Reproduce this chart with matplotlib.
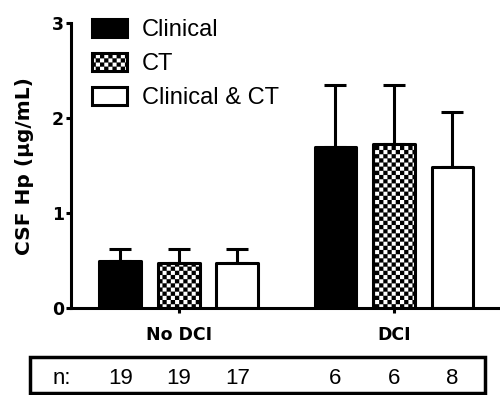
import warnings
warnings.filterwarnings("ignore")
import numpy as np
import matplotlib
matplotlib.use("Agg")
import matplotlib.pyplot as plt
import matplotlib.hatch as mhatch
from matplotlib.path import Path
from matplotlib.patches import Rectangle, Patch
from matplotlib.transforms import blended_transform_factory

# ---- data ----
groups = ["No DCI", "DCI"]
series = ["Clinical", "CT", "Clinical & CT"]
means = {
    "Clinical": [0.50, 1.70],
    "CT": [0.48, 1.73],
    "Clinical & CT": [0.48, 1.49],
}
upper_err = {
    "Clinical": [0.12, 0.65],
    "CT": [0.14, 0.62],
    "Clinical & CT": [0.14, 0.57],
}
n_counts = {
    "Clinical": [19, 6],
    "CT": [19, 6],
    "Clinical & CT": [17, 8],
}
yticks = [0, 1, 2, 3]
ylabel = "CSF Hp (µg/mL)"


# ---- custom checkerboard hatch ----
class Checker(mhatch.HatchPatternBase):
    def __init__(self, hatch, density):
        n = hatch.count('c') * density
        self.n = n
        if n == 0:
            self.num_vertices = 0
            self.squares = []
        else:
            self.squares = [(i, j) for i in range(n) for j in range(n) if (i + j) % 2 == 0]
            self.num_vertices = len(self.squares) * 5

    def set_vertices_and_codes(self, vertices, codes):
        s = 1.0 / self.n
        k = 0
        for i, j in self.squares:
            x0, y0 = i * s, j * s
            vertices[k:k + 5] = [(x0, y0), (x0 + s, y0), (x0 + s, y0 + s), (x0, y0 + s), (x0, y0)]
            codes[k:k + 5] = [Path.MOVETO, Path.LINETO, Path.LINETO, Path.LINETO, Path.CLOSEPOLY]
            k += 5


mhatch._hatch_types.append(Checker)

plt.rcParams['font.family'] = ['Liberation Sans', 'DejaVu Sans']
plt.rcParams['hatch.linewidth'] = 0.1
BOLD = ['DejaVu Sans']

styles = {
    "Clinical": dict(facecolor="black", hatch=None),
    "CT": dict(facecolor="white", hatch="cccc"),
    "Clinical & CT": dict(facecolor="white", hatch=None),
}

fig = plt.figure(figsize=(5, 3.95), dpi=100)
ax = fig.add_axes([0.142, 0.220, 0.858, 0.7215])

x = np.arange(len(groups))
spacing = 0.272
width = 0.195
LW = 2.2

for i, s in enumerate(series):
    xs = x + (i - 1) * spacing
    ax.errorbar(xs, means[s], yerr=[np.zeros(len(groups)), upper_err[s]],
                fmt='none', ecolor='black', elinewidth=LW, capsize=8, capthick=LW, zorder=1)
    bars = ax.bar(xs, means[s], width=width, edgecolor='black', linewidth=LW,
                  zorder=2, **styles[s])
    for b in bars:
        b.set_joinstyle('round')

ax.set_xlim(-0.502, 1.493)
ax.set_ylim(0, 3)
ax.set_yticks(yticks)
ax.set_xticks(x)
ax.set_xticklabels(groups, fontweight='bold', fontsize=12.5, family=BOLD)
ax.set_yticklabels([str(t) for t in yticks], fontweight='bold', fontsize=12.5, family=BOLD)
ax.tick_params(axis='both', direction='out', length=3.6, width=LW)
ax.tick_params(axis='x', pad=9.5)
ax.tick_params(axis='y', pad=1.5)
for side in ['top', 'right']:
    ax.spines[side].set_visible(False)
for side in ['left', 'bottom']:
    ax.spines[side].set_linewidth(LW)
ax.set_ylabel(ylabel, fontweight='bold', fontsize=14.5, family=BOLD, labelpad=13)

handles = [Patch(edgecolor='black', linewidth=LW, label=s, **styles[s]) for s in series]
ax.legend(handles=handles, loc='upper left', bbox_to_anchor=(0.049, 1.016),
          frameon=False, fontsize=17, handlelength=1.48, handleheight=0.8,
          handletextpad=0.62, labelspacing=0.5, borderpad=0, borderaxespad=0)

# n table
fig.add_artist(Rectangle((0.06, 0.005), 0.91, 0.09, transform=fig.transFigure,
                         facecolor='none', edgecolor='black', linewidth=2.5))
trans = blended_transform_factory(ax.transData, fig.transFigure)
fig.text(0.124, 0.042, "n:", ha='center', va='center', fontsize=16)
for i, s in enumerate(series):
    xs = x + (i - 1) * spacing
    for xv, nv in zip(xs, n_counts[s]):
        ax.text(xv, 0.042, str(nv), transform=trans, ha='center', va='center',
                fontsize=16, clip_on=False)

fig.savefig("out.png", dpi=100)
